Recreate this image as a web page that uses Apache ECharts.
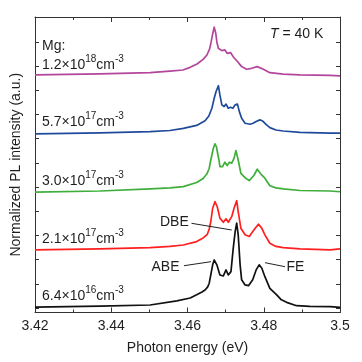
<!DOCTYPE html>
<html><head><meta charset="utf-8">
<script src="https://cdn.jsdelivr.net/npm/echarts@6/dist/echarts.min.js"></script>
<style>html,body{margin:0;padding:0;background:#fff}#c{width:362px;height:362px}</style>
</head><body><div id="c"></div>
<script>
// ---- data (photon energy in eV, normalized PL intensity with vertical offsets, a.u.) ----
const xTickLabels = ['3.42', '3.44', '3.46', '3.48', '3.5'];
const yTicks = [0, 1, 2, 3, 4, 5, 6, 7, 8, 9, 10, 11];

const seriesNames = ['1.2×10^18', '5.7×10^17', '3.0×10^17', '2.1×10^17', '6.4×10^16'];

const e_12e18 = [3.420, 3.437, 3.4502, 3.4554, 3.4588, 3.4607, 3.4625, 3.4641, 3.4651, 3.4658, 3.4662, 3.4666, 3.4670, 3.4674, 3.4677, 3.4681, 3.4690, 3.4698, 3.4704, 3.4713, 3.4720, 3.4731, 3.4742, 3.4755, 3.4768, 3.4783, 3.4799, 3.4816, 3.4851, 3.4895, 3.4974, 3.500];
const i_12e18 = [9.64, 9.68, 9.73, 9.79, 9.84, 9.95, 10.09, 10.28, 10.46, 10.71, 11.00, 11.33, 11.61, 11.37, 11.00, 10.74, 10.64, 10.67, 10.53, 10.56, 10.39, 10.19, 9.98, 9.87, 9.91, 9.98, 9.87, 9.73, 9.67, 9.64, 9.62, 9.60];

const e_57e17 = [3.420, 3.437, 3.4502, 3.4554, 3.4589, 3.4624, 3.4646, 3.4656, 3.4664, 3.4670, 3.4675, 3.4681, 3.4685, 3.4690, 3.4696, 3.4701, 3.4707, 3.4713, 3.4719, 3.4725, 3.4731, 3.4736, 3.4742, 3.4751, 3.4764, 3.4772, 3.4780, 3.4790, 3.4798, 3.4806, 3.4816, 3.4832, 3.4851, 3.4895, 3.4974, 3.500];
const i_57e17 = [7.20, 7.24, 7.29, 7.34, 7.43, 7.55, 7.74, 7.94, 8.26, 8.67, 8.95, 9.19, 8.81, 8.40, 8.33, 8.43, 8.26, 8.30, 8.26, 8.40, 8.43, 8.12, 7.85, 7.64, 7.60, 7.64, 7.71, 7.78, 7.72, 7.59, 7.46, 7.36, 7.32, 7.26, 7.23, 7.23];

const e_30e17 = [3.420, 3.437, 3.4502, 3.4554, 3.4589, 3.4624, 3.4641, 3.4651, 3.4657, 3.4660, 3.4664, 3.4668, 3.4672, 3.4676, 3.4679, 3.4683, 3.4685, 3.4692, 3.4698, 3.4704, 3.4710, 3.4716, 3.4722, 3.4727, 3.4733, 3.4740, 3.4751, 3.4762, 3.4774, 3.4783, 3.4793, 3.4803, 3.4816, 3.4832, 3.4851, 3.4895, 3.4974, 3.500];
const i_30e17 = [4.79, 4.84, 4.93, 4.97, 5.02, 5.19, 5.36, 5.55, 5.78, 6.04, 6.33, 6.62, 6.79, 6.66, 6.40, 6.08, 5.85, 5.85, 6.03, 5.89, 6.03, 5.99, 6.19, 6.51, 6.12, 5.57, 5.39, 5.27, 5.48, 5.74, 5.53, 5.37, 5.06, 4.97, 4.93, 4.86, 4.84, 4.81];

const e_21e17 = [3.420, 3.437, 3.4502, 3.4554, 3.4589, 3.4624, 3.4641, 3.4652, 3.4657, 3.4661, 3.4666, 3.4672, 3.4678, 3.4685, 3.4694, 3.4701, 3.4707, 3.4716, 3.4722, 3.4729, 3.4733, 3.4740, 3.4751, 3.4762, 3.4774, 3.4786, 3.4795, 3.4803, 3.4816, 3.4832, 3.4851, 3.4895, 3.4974, 3.500];
const i_21e17 = [2.41, 2.45, 2.50, 2.55, 2.61, 2.75, 2.90, 3.05, 3.27, 3.57, 4.13, 4.40, 4.19, 3.72, 3.55, 3.69, 3.55, 3.78, 4.13, 4.44, 3.99, 3.30, 3.03, 2.96, 3.23, 3.47, 3.30, 3.03, 2.68, 2.55, 2.50, 2.45, 2.41, 2.45];

const e_64e16 = [3.420, 3.437, 3.4502, 3.4572, 3.4607, 3.4624, 3.4638, 3.4646, 3.4653, 3.4657, 3.4661, 3.4666, 3.4670, 3.4677, 3.4685, 3.4694, 3.4701, 3.4707, 3.4714, 3.4720, 3.4725, 3.4729, 3.4733, 3.4738, 3.4742, 3.4751, 3.4760, 3.4771, 3.4780, 3.4788, 3.4795, 3.4803, 3.4816, 3.4834, 3.4845, 3.4860, 3.4886, 3.4921, 3.4974, 3.500];
const i_64e16 = [0.04, 0.08, 0.13, 0.30, 0.42, 0.55, 0.67, 0.75, 0.88, 1.03, 1.37, 1.79, 1.99, 1.79, 1.37, 1.33, 1.58, 1.37, 1.51, 2.48, 3.16, 3.51, 3.03, 1.79, 1.17, 0.96, 0.93, 1.17, 1.58, 1.79, 1.65, 1.30, 0.82, 0.55, 0.36, 0.24, 0.10, 0.07, 0.06, 0.03];

const energies = [e_12e18, e_57e17, e_30e17, e_21e17, e_64e16];
const intensities = [i_12e18, i_57e17, i_30e17, i_21e17, i_64e16];
const colors = ['#b3469b', '#1f4a9c', '#3fae3a', '#ff1f1f', '#111111'];

// ---- chart ----
const FONT = '"Liberation Sans", Arial, sans-serif';
const TXT = '#1e1e1e';
const AX = '#333333';
const chart = echarts.init(document.getElementById('c'), null, {renderer: 'canvas', width: 362, height: 362});

const series = seriesNames.map((n, k) => ({
  name: n, type: 'line', showSymbol: false, smooth: false, silent: true,
  data: energies[k].map((e, j) => [e, intensities[k][j]]),
  lineStyle: {color: colors[k], width: 1.7, join: 'round'}, z: 2 + k
}));

function xAx(pos, showLabel) {
  return {
    type: 'value', min: 3.42, max: 3.5, interval: 0.02, position: pos,
    axisLine: {show: true, onZero: false, lineStyle: {color: AX, width: 1}},
    axisTick: {show: true, inside: true, length: 5, lineStyle: {color: AX}},
    minorTick: {show: true, splitNumber: 2, length: 3, lineStyle: {color: AX}},
    splitLine: {show: false}, minorSplitLine: {show: false},
    axisLabel: {show: showLabel, margin: 7, fontSize: 14, color: TXT, fontFamily: FONT,
      formatter: v => { const i = Math.round((v - 3.42) / 0.02); return xTickLabels[i] || ''; }},
    name: showLabel ? 'Photon energy (eV)' : '', nameLocation: 'middle', nameGap: 29,
    nameTextStyle: {fontSize: 14, color: TXT, fontFamily: FONT}
  };
}
function yAx(pos, showName) {
  return {
    type: 'value', min: -0.18, max: 12.03, position: pos,
    axisLine: {show: true, onZero: false, lineStyle: {color: AX, width: 1}},
    axisTick: {show: true, inside: true, length: 4, lineStyle: {color: AX}, customValues: yTicks},
    axisLabel: {show: false}, splitLine: {show: false},
    name: showName ? 'Normalized PL intensity (a.u.)' : '', nameLocation: 'middle', nameGap: 12,
    nameTextStyle: {fontSize: 14, color: TXT, fontFamily: FONT}
  };
}

const sup = {fontSize: 10, verticalAlign: 'top', lineHeight: 10, fontFamily: FONT, fill: TXT};
const main = {fontSize: 14, lineHeight: 22, fontFamily: FONT, fill: TXT};
function label(x, y, txt) {
  return {type: 'text', x: x, y: y, z: 50, silent: true,
    style: {text: txt, fill: TXT, font: '14px ' + FONT, verticalAlign: 'middle', align: 'left',
      rich: {m: main, s: sup, it: {fontSize: 14, fontStyle: 'italic', fontFamily: FONT, fill: TXT, lineHeight: 22}}}};
}
function line(x1, y1, x2, y2) {
  return {type: 'line', z: 50, silent: true, shape: {x1, y1, x2, y2}, style: {stroke: '#222', lineWidth: 1}};
}
function conc(s) {
  const p = s.split('^');
  return '{m|' + p[0] + '}{s|' + p[1] + '}{m|cm}{s|-3}';
}

chart.setOption({
  animation: false,
  backgroundColor: '#fff',
  grid: {left: 35, right: 22, top: 17, bottom: 49.5, containLabel: false},
  xAxis: [xAx('bottom', true), xAx('top', false)],
  yAxis: [yAx('left', true), yAx('right', false)],
  series: series,
  graphic: [
    label(42, 46.5, '{m|Mg:}'),
    label(42, 65, conc(seriesNames[0])),
    label(42, 122.5, conc(seriesNames[1])),
    label(42, 181, conc(seriesNames[2])),
    label(42, 239, conc(seriesNames[3])),
    label(42, 296, conc(seriesNames[4])),
    label(270, 34, '{it|T}{m| = 40 K}'),
    label(160, 222.5, '{m|DBE}'),
    label(151.5, 267, '{m|ABE}'),
    label(286.5, 267, '{m|FE}'),
    line(191.5, 223.3, 231.7, 230),
    line(184, 265.7, 211, 261.7),
    line(265, 262.7, 285, 266.7)
  ]
});
</script>
</body></html>
